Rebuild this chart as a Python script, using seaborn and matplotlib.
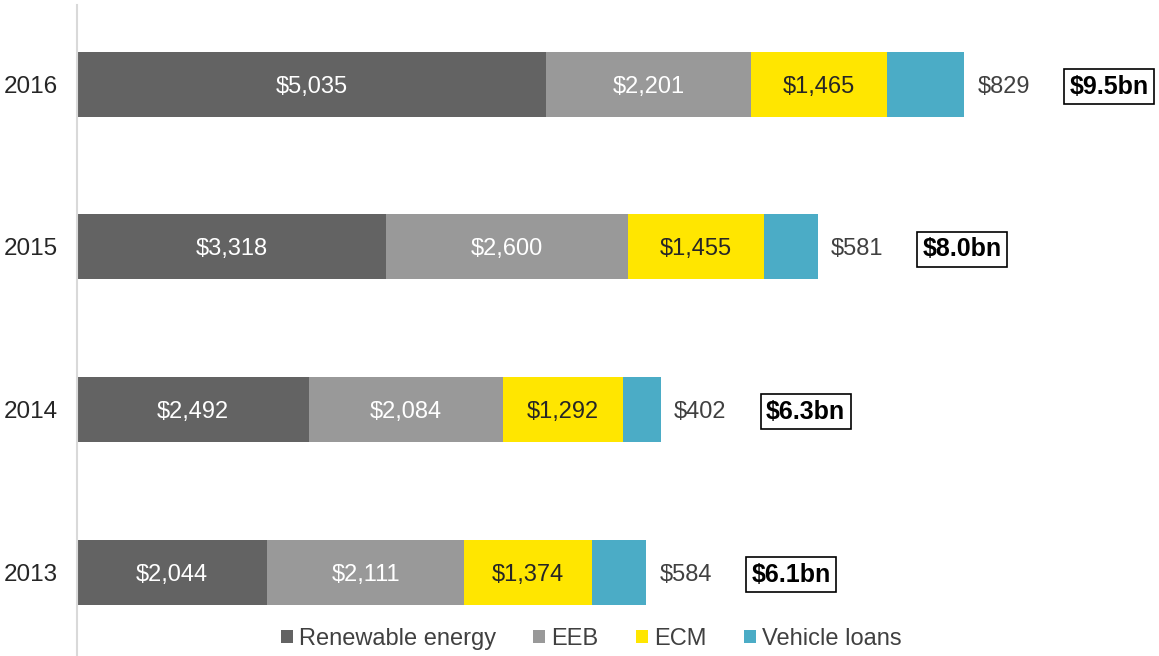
import numpy as np
import pandas as pd
import seaborn as sns
import matplotlib.pyplot as plt
from matplotlib.patches import Patch

years = ["2016", "2015", "2014", "2013"]
renewable = [5035, 3318, 2492, 2044]
eeb = [2201, 2600, 2084, 2111]
ecm = [1465, 1455, 1292, 1374]
vehicle = [829, 581, 402, 584]
totals = ["$9.5bn", "$8.0bn", "$6.3bn", "$6.1bn"]

series = ["Renewable energy", "EEB", "ECM", "Vehicle loans"]
colors = ["#636363", "#999999", "#FFE600", "#4BACC6"]
label_colors = ["white", "white", "#262626"]

sns.set_style("white")
plt.rcParams["font.family"] = ["Liberation Sans", "DejaVu Sans"]
plt.rcParams["font.size"] = 17

df = pd.DataFrame({"year": years, "Renewable energy": renewable, "EEB": eeb,
                   "ECM": ecm, "Vehicle loans": vehicle})
cum = df[series].cumsum(axis=1)

fig = plt.figure(figsize=(11.59, 6.56), dpi=100)
ax = fig.add_axes([77 / 1159, 1 / 656, 1082 / 1159, 650 / 656])

# draw stacked bars from the full total down to the first segment
for s, c in reversed(list(zip(series, colors))):
    sns.barplot(x=cum[s], y=df["year"], color=c, width=0.4, ax=ax,
                orient="h", saturation=1, linewidth=0)

for i, yr in enumerate(years):
    left = 0
    for j, s in enumerate(series[:3]):
        v = df.loc[i, s]
        ax.text(left + v / 2, i, f"${v:,}", ha="center", va="center_baseline",
                color=label_colors[j])
        left += v
    end = cum.loc[i, "Vehicle loans"]
    ax.text(end + 140, i, f"${vehicle[i]:,}", ha="left", va="center_baseline",
            color="#404040")
    ax.text(end + 1130, i, totals[i], ha="left", va="center_baseline",
            fontweight="bold", color="black", fontsize=18,
            bbox=dict(boxstyle="square,pad=0.22", fc="white", ec="black", lw=1.2))

ax.set_xlim(0, 11620)
ax.set_ylim(3.51, -0.486)
ax.set_xlabel("")
ax.set_ylabel("")
ax.set_xticks([])
ax.tick_params(axis="y", length=0, pad=14, labelcolor="#262626", labelsize=17.5)
for sp in ["top", "right", "bottom"]:
    ax.spines[sp].set_visible(False)
ax.spines["left"].set_color("#d9d9d9")
ax.spines["left"].set_linewidth(1.5)

handles = [Patch(facecolor=c, edgecolor="none", label=s) for s, c in zip(series, colors)]
fig.legend(handles=handles, loc="center", bbox_to_anchor=(0.51, 1 - 639 / 656),
           ncol=4, frameon=False, handlelength=0.5, handleheight=0.5,
           handletextpad=0.25, columnspacing=1.6, labelcolor="#404040")

fig.savefig("out.png", dpi=100)
